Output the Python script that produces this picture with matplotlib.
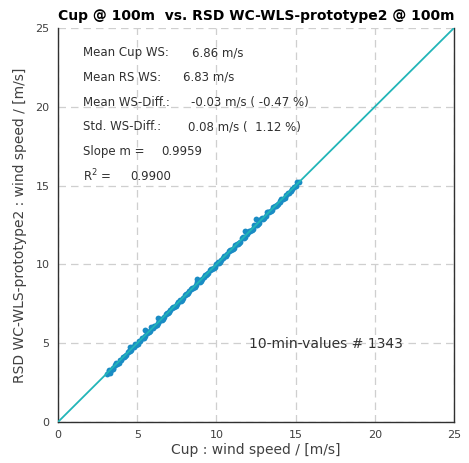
import matplotlib
matplotlib.use("Agg")
import matplotlib.pyplot as plt

# Cup vs. RSD wind speed (10-min values)
cup_ws = [3.1, 3.2, 3.28, 3.35, 3.5, 3.6, 3.75, 3.9, 4.0, 4.15, 4.3, 4.4, 4.55, 4.7,
          4.8, 4.95, 5.1, 5.2, 5.35, 5.5, 5.6, 5.75, 5.9, 6.0, 6.15, 6.3, 6.4, 6.55,
          6.7, 6.8, 6.95, 7.1, 7.2, 7.35, 7.5, 7.6, 7.75, 7.9, 8.0, 8.15, 8.3, 8.4,
          8.55, 8.7, 8.8, 8.95, 9.1, 9.2, 9.35, 9.5, 9.6, 9.75, 9.9, 10.0, 10.15,
          10.3, 10.4, 10.55, 10.7, 10.8, 10.95, 11.1, 11.2, 11.35, 11.5, 11.6, 11.75,
          11.9, 12.0, 12.15, 12.3, 12.4, 12.55, 12.7, 12.8, 12.95, 13.1, 13.2, 13.35,
          13.5, 13.6, 13.75, 13.9, 14.0, 14.2, 14.4, 14.6, 14.8, 15.0, 15.1, 15.2,
          4.55, 5.5, 6.3, 8.8, 11.8, 12.5, 14.0,
          3.25, 3.45, 3.68, 3.82, 4.08, 4.22, 4.48, 4.62, 4.88, 5.02, 5.28, 5.42,
          5.68, 5.82, 6.08, 6.22, 6.48, 6.62, 6.88, 7.02, 7.28, 7.42, 7.68, 7.82,
          8.08, 8.22, 8.48, 8.62, 8.88, 9.02, 9.28, 9.42, 9.68, 9.82, 10.08, 10.22,
          10.48, 10.62, 10.88, 11.02, 11.28, 11.42, 11.68, 11.82, 12.08, 12.22,
          12.48, 12.62, 12.88, 13.02, 13.28, 13.42, 13.68, 13.82, 14.1, 14.3, 14.5,
          14.7, 14.9]
rsd_ws = [3.05, 3.25, 3.1, 3.3, 3.45, 3.62, 3.7, 3.92, 3.95, 4.12, 4.28, 4.42, 4.5, 4.75,
          4.78, 4.9, 5.12, 5.15, 5.32, 5.48, 5.62, 5.7, 6.05, 5.97, 6.12, 6.28, 6.42, 6.5,
          6.68, 6.82, 6.9, 7.08, 7.25, 7.3, 7.47, 7.62, 7.7, 7.88, 8.05, 8.1, 8.28, 8.45,
          8.5, 8.68, 8.85, 8.9, 9.05, 9.22, 9.3, 9.48, 9.65, 9.7, 9.86, 10.05, 10.1,
          10.25, 10.42, 10.5, 10.68, 10.85, 10.9, 11.05, 11.25, 11.3, 11.45, 11.65, 11.7,
          11.95, 12.05, 12.1, 12.25, 12.5, 12.5, 12.65, 12.85, 12.9, 13.05, 13.3, 13.3,
          13.45, 13.62, 13.7, 13.85, 14.02, 14.15, 14.38, 14.55, 14.8, 14.95, 15.25, 15.2,
          4.76, 5.84, 6.6, 9.1, 12.1, 12.85, 13.96,
          3.32, 3.38, 3.72, 3.76, 4.12, 4.16, 4.52, 4.56, 4.92, 4.96, 5.32, 5.36,
          5.72, 5.76, 6.12, 6.16, 6.52, 6.56, 6.92, 6.96, 7.32, 7.36, 7.72, 7.76,
          8.12, 8.16, 8.52, 8.56, 8.92, 8.96, 9.32, 9.36, 9.72, 9.76, 10.12, 10.16,
          10.52, 10.56, 10.92, 10.96, 11.32, 11.36, 11.72, 11.76, 12.12, 12.16,
          12.52, 12.56, 12.92, 12.96, 13.32, 13.36, 13.72, 13.76, 14.12, 14.24, 14.52,
          14.64, 14.92]

stat_labels = ["Mean Cup WS:", "Mean RS WS:", "Mean WS-Diff.:", "Std. WS-Diff.:",
               "Slope m =", "R$^2$ ="]
stat_values = ["6.86 m/s", "6.83 m/s", "-0.03 m/s ( -0.47 %)", "0.08 m/s (  1.12 %)",
               "0.9959", "0.9900"]
stat_value_x = [8.46, 7.89, 8.4, 8.21, 6.5, 4.55]
n_values = 1343

fig = plt.figure(figsize=(4.69, 4.63), dpi=100)
ax = fig.add_axes([0.1237, 0.0886, 0.8443, 0.851])

ax.plot(cup_ws, rsd_ws, "o", color="#1a8cc4", markersize=4.2, markeredgewidth=0, zorder=3)
ax.plot([0, 25], [0, 25], color="#22b5b8", linewidth=1.3, zorder=4)

ax.set_xlim(0, 25)
ax.set_ylim(0, 25)
ax.set_xticks(range(0, 26, 5))
ax.set_yticks(range(0, 26, 5))
ax.grid(True, color="#cfcfcf", linestyle=(0, (6, 4)), linewidth=0.9)
ax.tick_params(length=0, labelsize=8, colors="#404040", pad=6)
ax.spines["top"].set_visible(False)
for s in ["left", "bottom", "right"]:
    ax.spines[s].set_color("#303030")
    ax.spines[s].set_linewidth(1.0)

ax.set_xlabel("Cup : wind speed / [m/s]", fontsize=10, color="#404040", labelpad=2)
ax.set_ylabel("RSD WC-WLS-prototype2 : wind speed / [m/s]", fontsize=10,
              color="#404040", labelpad=6)
ax.set_title("Cup @ 100m  vs. RSD WC-WLS-prototype2 @ 100m", fontsize=10,
             fontweight="bold", pad=6)

y = 23.43
for lab, val, vx in zip(stat_labels, stat_values, stat_value_x):
    ax.text(1.58, y, lab, fontsize=8.5, color="#303030", va="center")
    ax.text(vx, y, val, fontsize=8.5, color="#303030", va="center")
    y -= 1.57

ax.text(16.9, 4.95, "10-min-values # %d" % n_values, fontsize=10, color="#303030",
        ha="center", va="center")

fig.savefig("out.png", dpi=100)
